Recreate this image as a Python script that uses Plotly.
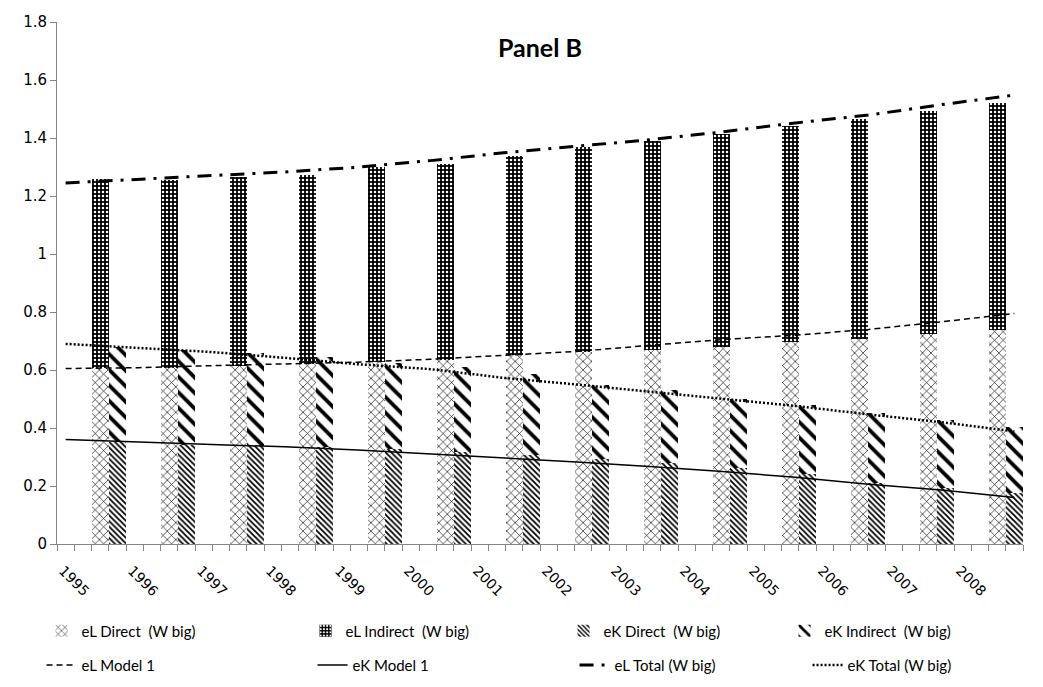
import plotly.graph_objects as go

years = [str(y) for y in range(1995, 2009)]

eL_direct = [0.606, 0.608, 0.614, 0.622, 0.628, 0.633, 0.651, 0.662, 0.668, 0.679, 0.697, 0.708, 0.725, 0.737]
eL_indirect = [0.653, 0.647, 0.650, 0.652, 0.671, 0.677, 0.688, 0.706, 0.723, 0.736, 0.745, 0.757, 0.769, 0.783]
eK_direct = [0.352, 0.343, 0.337, 0.333, 0.326, 0.318, 0.306, 0.292, 0.278, 0.262, 0.240, 0.212, 0.192, 0.175]
eK_indirect = [0.327, 0.325, 0.322, 0.312, 0.298, 0.292, 0.279, 0.258, 0.252, 0.239, 0.238, 0.240, 0.235, 0.229]

eL_model1 = [0.605, 0.608, 0.615, 0.622, 0.627, 0.637, 0.651, 0.664, 0.685, 0.705, 0.720, 0.740, 0.766, 0.795]
eK_model1 = [0.360, 0.352, 0.343, 0.335, 0.324, 0.311, 0.298, 0.283, 0.267, 0.250, 0.230, 0.206, 0.186, 0.160]
eL_total = [1.245, 1.258, 1.271, 1.283, 1.299, 1.322, 1.349, 1.371, 1.394, 1.421, 1.452, 1.479, 1.515, 1.548]
eK_total = [0.690, 0.677, 0.662, 0.642, 0.620, 0.603, 0.573, 0.550, 0.525, 0.500, 0.476, 0.447, 0.420, 0.388]

n = len(years)
SLOTS = 4  # category slots per year
x_eL = [SLOTS * i + 2.5 for i in range(n)]
x_eK = [SLOTS * i + 3.5 for i in range(n)]
x_line = [0.5 + i * (SLOTS * n - 1) / (n - 1) for i in range(n)]
x_lab = [SLOTS * i + 0.35 for i in range(n)]

LEG_FONT = dict(family="Lato, Open Sans, sans-serif", size=15, color="black")

fig = go.Figure()

def pat(shape, size, solidity, fg="black", bg="white"):
    return dict(shape=shape, size=size, solidity=solidity, fgcolor=fg, bgcolor=bg, fillmode="replace")

fig.add_trace(go.Bar(x=x_eL, y=eL_direct, width=1, name="eL Direct  (W big)", legendwidth=219,
                     marker=dict(color="black", line=dict(width=0), pattern=pat("x", 6, 0.2)),
                     legend="legend"))
fig.add_trace(go.Bar(x=x_eL, y=eL_indirect, width=1, name="eL Indirect  (W big)", legendwidth=213,
                     marker=dict(color="black", line=dict(width=0), pattern=pat(".", 4, 0.3, fg="white", bg="black")),
                     legend="legend"))
fig.add_trace(go.Bar(x=x_eK, y=eK_direct, width=1, name="eK Direct  (W big)", legendwidth=176,
                     marker=dict(color="black", line=dict(width=0), pattern=pat("\\", 4, 0.45)),
                     legend="legend"))
fig.add_trace(go.Bar(x=x_eK, y=eK_indirect, width=1, name="eK Indirect  (W big)", legendwidth=150,
                     marker=dict(color="black", line=dict(width=0), pattern=pat("\\", 11, 0.35)),
                     legend="legend"))

fig.add_trace(go.Scatter(x=x_line, y=eL_model1, mode="lines", name="eL Model 1", legendwidth=226,
                         line=dict(color="black", width=1.5, dash="6px,4px"), legend="legend2"))
fig.add_trace(go.Scatter(x=x_line, y=eK_model1, mode="lines", name="eK Model 1", legendwidth=217,
                         line=dict(color="black", width=1.5, dash="solid"), legend="legend2"))
fig.add_trace(go.Scatter(x=x_line, y=eL_total, mode="lines", name="eL Total (W big)", legendwidth=188,
                         line=dict(color="black", width=3, dash="14px,8px,3px,8px"), legend="legend2"))
fig.add_trace(go.Scatter(x=x_line, y=eK_total, mode="lines", name="eK Total (W big)", legendwidth=140,
                         line=dict(color="black", width=2.5, dash="2px,2px"), legend="legend2"))

fig.update_layout(
    width=1035, height=679,
    margin=dict(l=49, r=20, t=14, b=143, autoexpand=False),
    paper_bgcolor="white", plot_bgcolor="white",
    barmode="stack",
    title=dict(text="<b>Panel B</b>", x=0.514, xanchor="center", y=0.941, yanchor="middle",
               font=dict(family="Lato, Open Sans, sans-serif", size=25, color="black")),
    legend=dict(orientation="h", x=-0.016, xanchor="left", y=-0.135, yanchor="top",
                font=LEG_FONT, bgcolor="rgba(0,0,0,0)", traceorder="normal"),
    legend2=dict(orientation="h", x=-0.016, xanchor="left", y=-0.2005, yanchor="top",
                 font=LEG_FONT, bgcolor="rgba(0,0,0,0)", traceorder="normal"),
    xaxis=dict(range=[0, SLOTS * n], showgrid=False, zeroline=False,
               showline=True, linecolor="#868686", linewidth=1,
               tickmode="array", tickvals=x_lab, ticktext=years, ticks="",
               tickangle=45, ticklabelstandoff=12,
               tickfont=dict(family="DejaVu Sans, Verdana, sans-serif", size=14, color="black"),
               minor=dict(tickmode="linear", tick0=0, dtick=1, ticks="outside",
                          ticklen=6, tickcolor="#868686", tickwidth=1, showgrid=False)),
    yaxis=dict(range=[0, 1.8], tickmode="linear", tick0=0, dtick=0.2, showgrid=False, zeroline=False,
               showline=True, linecolor="#868686", linewidth=1,
               ticks="outside", ticklen=6, tickcolor="#868686",
               tickformat="~g",
               tickfont=dict(family="DejaVu Sans, Verdana, sans-serif", size=15, color="black")),
    bargap=0,
)

fig.write_html("out.html")
